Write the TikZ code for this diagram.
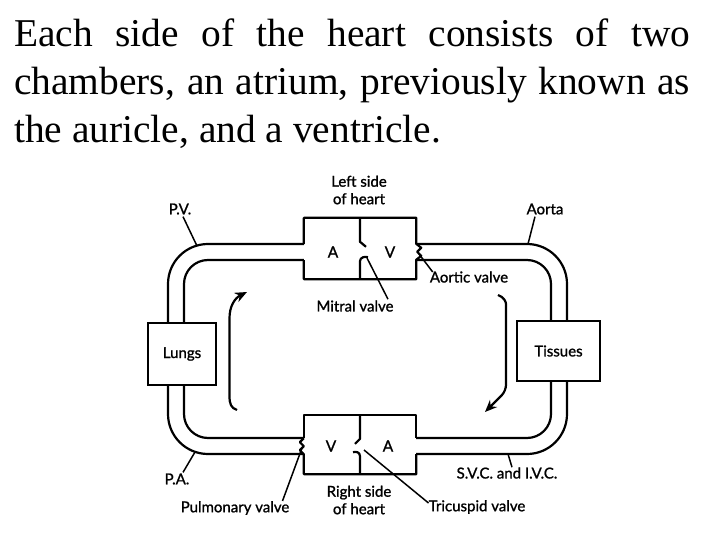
\documentclass[tikz,border=0pt]{standalone}
\usepackage{fontspec}
\setmainfont{Liberation Serif}
\newfontfamily\labelfont[FakeBold=1.2]{Lato}
\usepackage{tikz}
\usetikzlibrary{arrows.meta, calc}

\begin{document}
\begin{tikzpicture}[x=1pt, y=-1pt,
  wall/.style={line width=2.2pt, line join=round},
  pointer/.style={line width=1.5pt},
  lbl/.style={font=\labelfont\fontsize{15}{17.5}\selectfont, inner sep=1pt, align=center},
  chamber/.style={font=\labelfont\fontsize{15.5}{17}\selectfont, inner sep=0pt},
  organ/.style={draw, line width=2.2pt, font=\labelfont\fontsize{15}{17}\selectfont, inner sep=0pt},
  flow/.style={line width=2.2pt, -{Stealth[length=12pt, width=10pt]}}]

\useasboundingbox (0,0) rectangle (720,540);

% Heading, first two lines spread to the full width
\def\headfont{\fontsize{39.4}{48}\selectfont}
\node[anchor=base west, inner sep=0pt, font=\headfont] (head1) at (14,47) {\makebox[676pt][s]{Each side of the heart consists of two}};
\node[anchor=base west, inner sep=0pt, font=\headfont] (head2) at (14,95) {\makebox[676pt][s]{chambers, an atrium, previously known as}};
\node[anchor=base west, inner sep=0pt, font=\headfont] (head3) at (14,143) {the auricle, and a ventricle.};

% Organs
\node[organ, minimum width=68pt, minimum height=62pt] (lungs) at (182,354) {Lungs};
\node[organ, minimum width=83pt, minimum height=60pt] (tissues) at (558.5,351) {Tissues};

% Heart boxes (walls drawn by hand, they have openings)
\node[minimum width=112pt, minimum height=61pt, inner sep=0pt] (lheart) at (360,248.5) {};
\node[minimum width=112pt, minimum height=59pt, inner sep=0pt] (rheart) at (360,444.5) {};

\node[chamber] (la) at (333,252) {A};
\node[chamber] (lv) at (390,252) {V};
\node[chamber] (rv) at (331,446) {V};
\node[chamber] (ra) at (388,446) {A};

% left side of heart, aortic valve on the right wall
\draw[wall] ($(lheart.west)+(0,-4.5)$) |- (lheart.north east) -- ++(0,26)
  -- ++(5,4) -- ++(-4,4) -- ++(4,4) -- ++(-5,4) |- (lheart.south west) -- ++(0,-19);
% mitral valve
\draw[wall] (lheart.north) -- ++(0,24) -- ++(6,5);
\draw[wall] (lheart.south) -- ++(0,-18) .. controls +(0,-4) and +(-3,-1) .. ++(8,-4);

% right side of heart, pulmonary valve on the left wall
\draw[wall] ($(rheart.west)+(0,-6.5)$) |- (rheart.north east) -- ++(0,23);
\draw[wall] ($(rheart.east)+(0,9.5)$) |- (rheart.south west) -- ++(0,-20)
  -- ++(-4,-4) -- ++(4,-4) -- ++(-4,-4) -- ++(4,-4);
% tricuspid valve
\draw[wall] (rheart.north) -- ++(0,24) -- ++(-5,5);
\draw[wall] (rheart.south) -- ++(0,-18) .. controls +(0,-4) and +(3,-1) .. ++(-7,-4);

% Vessels
\draw[wall, rounded corners=40pt] ($(lheart.west)+(0,-4.5)$) -| ($(lungs.north)+(-14,0)$);
\draw[wall, rounded corners=24pt] ($(lheart.west)+(0,11.5)$) -| ($(lungs.north)+(2,0)$);
\draw[wall, rounded corners=40pt] ($(lheart.east)+(0,-4.5)$) -| ($(tissues.north)+(8.5,0)$);
\draw[wall, rounded corners=24pt] ($(lheart.east)+(0,11.5)$) -| ($(tissues.north)+(-7.5,0)$);
\draw[wall, rounded corners=40pt] ($(lungs.south)+(-14,0)$) |- ($(rheart.west)+(0,9.5)$);
\draw[wall, rounded corners=24pt] ($(lungs.south)+(2,0)$) |- ($(rheart.west)+(0,-6.5)$);
\draw[wall, rounded corners=40pt] ($(tissues.south)+(8.5,0)$) |- ($(rheart.east)+(0,9.5)$);
\draw[wall, rounded corners=24pt] ($(tissues.south)+(-7.5,0)$) |- ($(rheart.east)+(0,-6.5)$);

% Labels
\node[lbl] (lefttxt) at (359,190) {Left side\\of heart};
\node[lbl] (righttxt) at (359,500) {Right side\\of heart};
\node[lbl] (pvtxt) at (180,209) {P.V.};
\node[lbl] (aortatxt) at (545,209) {Aorta};
\node[lbl] (aovalve) at (469,277) {Aortic valve};
\node[lbl] (mitral) at (355,306) {Mitral valve};
\node[lbl] (patxt) at (177,479) {P.A.};
\node[lbl] (pulmtxt) at (235,508) {Pulmonary valve};
\node[lbl] (tvtxt) at (477,507) {Tricuspid valve};
\node[lbl] (svctxt) at (507,473) {S.V.C. and I.V.C.};

% pointer tips
\coordinate (pvtip) at (197,246);
\coordinate (aotip) at (528,244);
\coordinate (avtip) at (419,254);
\coordinate (mvtip) at (367,258);
\coordinate (patip) at (195,452);
\coordinate (pulmtip) at (302,448);
\coordinate (tvtip) at (364,450);
\coordinate (svctip) at (508,454);

\draw[pointer] ($(pvtxt.south)+(3,1)$) -- (pvtip);
\draw[pointer] ($(aortatxt.south)+(-10,1)$) -- (aotip);
\draw[pointer] ($(aovalve.west)+(4,-5)$) -- (avtip);
\draw[pointer] ($(mitral.north)+(33,0)$) -- (mvtip);
\draw[pointer] ($(patxt.north)+(6,0)$) -- (patip);
\draw[pointer] ($(pulmtxt.north east)+(-8,1)$) -- (pulmtip);
\draw[pointer] ($(tvtxt.west)+(1,-4)$) -- (tvtip);
\draw[pointer] ($(svctxt.north)+(5,1)$) -- (svctip);

% Direction of flow
\draw[flow] (237,410) .. controls (231,408) and (229.5,404) .. (229.5,396) -- (229.5,318) .. controls (229.5,306) and (235,298) .. (247,292);
\draw[flow, rounded corners=6pt] (498,295) .. controls (504,297) and (506,302) .. (506,310) -- (506,391) -- (485,412);

\end{tikzpicture}
\end{document}
